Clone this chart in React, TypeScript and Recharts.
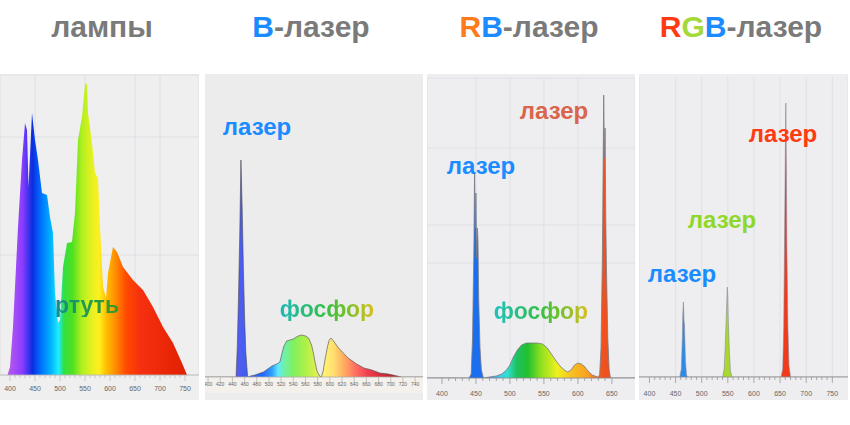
import React from "react";
import { Area, AreaChart, CartesianGrid, XAxis, YAxis } from "recharts";

const FONT = '"Liberation Sans", Arial, Helvetica, sans-serif';
const GRAY = "#7a7a7a";
const BLUE = "#1a8cff";

// лампы (mercury lamp)
const lampWl = [395, 400, 406, 416, 424, 430, 434, 437, 444, 450, 456, 464, 474, 480, 486, 490, 496, 500, 506, 514, 524, 530, 536, 544, 550, 554, 556, 564, 570, 576, 580, 586, 592, 596, 606, 614, 626, 646, 666, 686, 706, 726, 744, 754];
const lampVal = [0, 8, 48, 148, 215, 252, 245, 188, 262, 235, 215, 182, 180, 158, 142, 82, 52, 55, 108, 132, 133, 162, 235, 258, 290, 292, 262, 232, 202, 197, 148, 88, 77, 102, 128, 123, 108, 95, 85, 68, 48, 32, 12, 0];
const lampLabels = [400, 450, 500, 550, 600, 650, 700, 750];

// B-лазер
const bWl = [395, 446, 448, 450, 452, 454, 456, 458, 460, 462, 465, 470, 477, 491, 505, 513, 518, 524, 529, 540, 548, 554, 560, 565, 570, 573, 576, 579, 583, 586, 589, 592, 596, 599, 602, 606, 613, 622, 630, 644, 656, 669, 682, 696, 718, 753];
const bVal = [0, 0, 30, 80, 140, 217, 170, 110, 60, 25, 0, 1, 2, 5, 11, 13, 15, 30, 36, 38, 41, 42, 41, 39, 32, 24, 14, 6, 1, 0, 6, 17, 30, 37, 39, 36, 30, 24, 19, 13, 9, 7, 4, 3, 0, 0];
const bLabels = [400, 420, 440, 460, 480, 500, 520, 540, 560, 580, 600, 620, 640, 660, 680, 700, 720, 740];

// RB-лазер
const rbWl = [378, 440, 443, 445, 447, 448, 449, 450, 451, 452, 453, 454, 456, 458, 461, 470, 480, 488, 495, 500, 505, 511, 517, 524, 531, 540, 548, 555, 560, 568, 575, 580, 585, 590, 595, 600, 605, 609, 615, 621, 629, 632, 634, 636, 638, 639, 640, 641, 642, 644, 646, 648, 684];
const rbVal = [0, 0, 4, 40, 130, 206, 150, 185, 120, 150, 138, 80, 30, 8, 0, 1, 2, 4, 8, 13, 21, 28, 33, 35, 35, 35, 34, 30, 25, 17, 11, 8, 6, 8, 13, 15, 14, 12, 7, 3, 1, 3, 30, 120, 283, 220, 250, 160, 110, 40, 8, 0, 0];
const rbLabels = [400, 450, 500, 550, 600, 650];

// RGB-лазер
const rgbWl = [380, 458, 461, 463, 464, 465, 466, 467, 469, 471, 473, 540, 543, 545, 547, 549, 550, 551, 553, 555, 558, 652, 655, 657, 659, 660, 661, 662, 663, 665, 667, 670, 780];
const rgbVal = [0, 0, 8, 40, 65, 75, 58, 52, 15, 2, 0, 0, 8, 30, 60, 90, 80, 55, 25, 6, 0, 0, 8, 50, 160, 220, 274, 210, 130, 50, 12, 0, 0];
const rgbLabels = [400, 450, 500, 550, 600, 650, 700, 750];

type Stop = [number, string];

const lampStops: Stop[] = [
  [400, "#b457f0"], [425, "#8a3cff"], [445, "#0a2ee0"], [462, "#0070ff"], [482, "#00b4ff"],
  [497, "#20ecff"], [508, "#30e040"], [525, "#50e020"], [545, "#b4f020"], [565, "#e8f020"],
  [578, "#fff020"], [592, "#ffc000"], [610, "#ff9000"], [632, "#ff4a00"], [660, "#f63010"], [754, "#e02000"],
];
const bStops: Stop[] = [
  [446, "#5a5af0"], [462, "#4060f0"], [490, "#2468ff"], [505, "#30a0ff"], [515, "#60e8ff"],
  [525, "#70f0a8"], [540, "#80f060"], [558, "#a8f048"], [575, "#d8f050"], [592, "#fff070"],
  [605, "#ffe070"], [622, "#ffb060"], [642, "#ff7060"], [662, "#f04050"], [700, "#c02030"],
];
const rbStops: Stop[] = [
  [440, "#1a6ef0"], [462, "#1a70f0"], [482, "#40c0f0"], [496, "#30e0d0"], [510, "#20c060"],
  [526, "#20c030"], [546, "#90e020"], [570, "#f0f020"], [590, "#f8c020"], [615, "#f8a020"],
  [630, "#f06020"], [638, "#f0501e"],
];
const rgbStops: Stop[] = [
  [500, "#2a8ce8"], [510, "#a8d830"], [600, "#a8d830"], [620, "#f03a1a"],
];

const zip = (wl: number[], v: number[]) => wl.map((w, i) => ({ wl: w, v: v[i] }));

const minorTicks = (from: number, to: number, step: number) => {
  const out: number[] = [];
  for (let t = from; t <= to; t += step) out.push(t);
  return out;
};

type PanelProps = {
  id: string;
  left: number;
  width: number;
  wl: number[];
  val: number[];
  domain: [number, number];
  plotTop: number;
  axisH: number;
  labels: number[];
  step: number;
  stops: Stop[];
  stroke: string;
  strokeWidth: number;
  labelFs: number;
  labelDy: number;
  axisColor: string;
  bg: string;
  band?: string;
  gridX?: number[];
  gridY?: number[];
};

function Spectrum(p: PanelProps) {
  const data = zip(p.wl, p.val);
  const lo = p.wl[0];
  const hi = p.wl[p.wl.length - 1];
  const H = 326;
  const ticks = minorTicks(p.labels[0], p.labels[p.labels.length - 1], p.step);

  const Tick = (props: any) => {
    const { x, y, payload } = props;
    const v = payload.value as number;
    const isLabel = p.labels.includes(v);
    return (
      <g>
        <line x1={x} x2={x} y1={y} y2={y + (isLabel ? 6 : 3)} stroke={p.axisColor} strokeWidth={0.7} />
        {isLabel && (
          <text x={x} y={y + p.labelDy} textAnchor="middle" fontSize={p.labelFs} fill="#666" fontFamily={FONT}>
            {v}
          </text>
        )}
      </g>
    );
  };

  return (
    <div style={{ position: "absolute", left: p.left, top: 74, width: p.width, height: H, background: p.bg }}>
      {p.band && (
        <div style={{ position: "absolute", left: 0, top: H - p.axisH, width: p.width, height: 16, background: p.band }} />
      )}
      <div style={{ position: "absolute", left: 0, top: 0 }}>
        <AreaChart width={p.width} height={H} data={data} margin={{ top: p.plotTop, right: 0, bottom: 0, left: 0 }}>
          <defs>
            <linearGradient id={p.id} x1="0" y1="0" x2="1" y2="0">
              {p.stops.map(([w, c]) => (
                <stop key={w} offset={(w - lo) / (hi - lo)} stopColor={c} />
              ))}
            </linearGradient>
          </defs>
          <XAxis
            dataKey="wl"
            type="number"
            domain={p.domain}
            allowDataOverflow
            ticks={ticks}
            interval={0}
            height={p.axisH}
            tickSize={0}
            tickMargin={0}
            tickLine={false}
            axisLine={{ stroke: p.axisColor, strokeWidth: 0.8 }}
            tick={Tick}
          />
          <XAxis xAxisId="grid" dataKey="wl" type="number" hide domain={p.domain} allowDataOverflow ticks={p.gridX || []} interval={0} />
          <YAxis hide type="number" domain={[0, 300]} allowDataOverflow />
          <YAxis yAxisId="grid" hide type="number" domain={[0, 300]} allowDataOverflow ticks={p.gridY || []} interval={0} />
          <CartesianGrid
            xAxisId="grid"
            yAxisId="grid"
            stroke="#dcdde4"
            strokeWidth={0.8}
            vertical={!!p.gridX}
            horizontal={!!p.gridY}
          />
          <Area
            dataKey="v"
            type="linear"
            fill={`url(#${p.id})`}
            fillOpacity={1}
            stroke={p.stroke}
            strokeWidth={p.strokeWidth}
            dot={false}
            activeDot={false}
            isAnimationActive={false}
          />
        </AreaChart>
      </div>
    </div>
  );
}

// text helper: cx = horizontal centre, xTop = top of lowercase letters
function Word({ cx, xTop, fs, children, color, grad }: { cx: number; xTop: number; fs: number; children: React.ReactNode; color?: string; grad?: string }) {
  const gradStyle: React.CSSProperties = grad
    ? { backgroundImage: grad, WebkitBackgroundClip: "text", backgroundClip: "text", color: "transparent", WebkitTextFillColor: "transparent" }
    : { color };
  return (
    <div
      style={{
        position: "absolute",
        left: cx,
        top: xTop - 0.327 * fs,
        transform: "translateX(-50%)",
        fontFamily: FONT,
        fontWeight: 700,
        fontSize: fs,
        lineHeight: `${fs}px`,
        whiteSpace: "nowrap",
        ...gradStyle,
      }}
    >
      {children}
    </div>
  );
}

export default function App() {
  return (
    <div style={{ position: "absolute", left: 0, top: 0, width: 850, height: 425, background: "#fff", overflow: "hidden" }}>
      <Spectrum
        id="lampGrad" left={0} width={199} wl={lampWl} val={lampVal} domain={[380, 778]}
        plotTop={1} axisH={25} labels={lampLabels} step={10} stops={lampStops}
        stroke="none" strokeWidth={0} labelFs={7} labelDy={16} axisColor="#b8b8b8" bg="#efefef"
        gridX={[450, 550, 650, 700]} gridY={[120, 238]}
      />
      <Spectrum
        id="bGrad" left={205} width={218} wl={bWl} val={bVal} domain={[395, 753]}
        plotTop={3} axisH={23} labels={bLabels} step={20} stops={bStops}
        stroke="#4a4a4a" strokeWidth={0.6} labelFs={5} labelDy={9} axisColor="#b0aca6" bg="#ececec" band="#f4f1ec"
      />
      <Spectrum
        id="rbGrad" left={427} width={208} wl={rbWl} val={rbVal} domain={[378, 684]}
        plotTop={4} axisH={22} labels={rbLabels} step={10} stops={rbStops}
        stroke="#7a7a84" strokeWidth={0.8} labelFs={7} labelDy={18} axisColor="#8a8a8a" bg="#eeeef0"
        gridX={[450, 500, 550, 600]} gridY={[115, 153, 230]}
      />
      <Spectrum
        id="rgbGrad" left={639} width={209} wl={rgbWl} val={rgbVal} domain={[380, 780]}
        plotTop={3} axisH={23} labels={rgbLabels} step={10} stops={rgbStops}
        stroke="#8a8aa0" strokeWidth={0.6} labelFs={7} labelDy={19} axisColor="#8a8a8a" bg="#eeeef0"
        gridX={[450, 500, 550, 600, 650, 700, 750]}
      />

      {/* titles */}
      <Word cx={102} xTop={22} fs={30} color={GRAY}>лампы</Word>
      <Word cx={311} xTop={22} fs={30} color={GRAY}>
        <span style={{ color: BLUE }}>B</span>-лазер
      </Word>
      <Word cx={529} xTop={22} fs={30} color={GRAY}>
        <span style={{ color: "#ff7a1a" }}>R</span>
        <span style={{ color: BLUE }}>B</span>-лазер
      </Word>
      <Word cx={741} xTop={22} fs={30} color={GRAY}>
        <span style={{ color: "#ff3b14" }}>R</span>
        <span style={{ color: "#a4d93a" }}>G</span>
        <span style={{ color: BLUE }}>B</span>-лазер
      </Word>

      {/* annotations */}
      <Word cx={87} xTop={302} fs={23} grad="linear-gradient(90deg, #1a8a92, #229a50, #3a9a20)">ртуть</Word>
      <Word cx={257} xTop={123} fs={24} color={BLUE}>лазер</Word>
      <Word cx={327} xTop={306} fs={23} grad="linear-gradient(90deg, #20b8b8, #30c050 45%, #50c030 60%, #d8c020)">фосфор</Word>
      <Word cx={554} xTop={107} fs={24} color="#d9654a">лазер</Word>
      <Word cx={481} xTop={162} fs={24} color={BLUE}>лазер</Word>
      <Word cx={541} xTop={308} fs={23} grad="linear-gradient(90deg, #20c0c0, #30c050 45%, #60c030 65%, #d8c020)">фосфор</Word>
      <Word cx={783} xTop={130} fs={24} color="#ff3a10">лазер</Word>
      <Word cx={722} xTop={216} fs={24} color="#8ed82a">лазер</Word>
      <Word cx={682} xTop={270} fs={24} color={BLUE}>лазер</Word>
    </div>
  );
}
